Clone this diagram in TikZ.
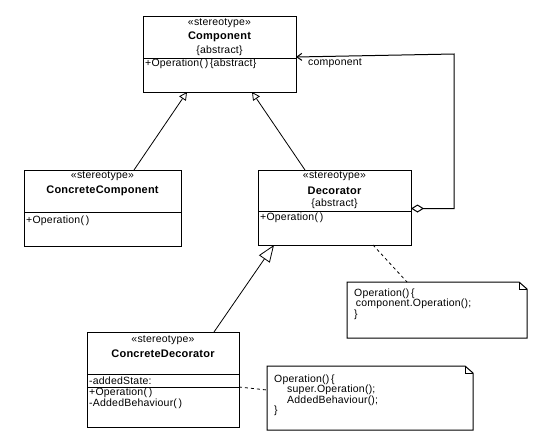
\documentclass[tikz,border=0pt]{standalone}
\usepackage{fontspec}
\setmainfont{Liberation Sans}[LetterSpace=2]
\usetikzlibrary{arrows.meta,positioning,calc}

\begin{document}
\begin{tikzpicture}[x=1pt, y=-1pt,
    cls/.style={draw, line width=1pt, inner sep=0pt, outer sep=0pt},
    txt/.style={inner sep=0pt, font=\fontsize{10.5}{10.5}\selectfont},
    clsname/.style={txt, font=\fontsize{11}{11}\selectfont\bfseries},
    mem/.style={txt, anchor=west},
    notebox/.style={inner sep=0pt, outer sep=0pt},
    notetxt/.style={txt, anchor=north west, align=left},
    gen/.style={-{Triangle[open, length=8pt, width=8pt]}, line width=0.8pt},
    biggen/.style={-{Triangle[open, length=17pt, width=13pt]}, line width=0.8pt},
    dep/.style={dash pattern=on 3pt off 3pt, line width=0.8pt},
    assoc/.style={{Diamond[open, length=13pt, width=8pt]}-{Straight Barb[length=5pt, width=7pt]}, line width=1pt},
]
    \useasboundingbox (0,0) rectangle (547,445);

    % classes
    \node[cls, minimum width=153, minimum height=76] (comp) at (219.5,54) {};
    \node[cls, minimum width=157, minimum height=76] (ccomp) at (102.5,208) {};
    \node[cls, minimum width=153, minimum height=75] (dec) at (334.5,207.5) {};
    \node[cls, minimum width=152, minimum height=95] (cdec) at (163,379.5) {};

    \draw[line width=1pt] (comp.west |- 0,58) -- (comp.east |- 0,58);
    \draw[line width=1pt] (ccomp.west |- 0,212) -- (182,212);
    \draw[line width=1pt] (dec.west |- 0,211) -- (dec.east |- 0,211);
    \draw[line width=1pt] (cdec.west |- 0,374) -- (cdec.east |- 0,374);
    \draw[line width=1pt] (cdec.west |- 0,387) -- (cdec.east |- 0,387);

    \node[txt] (comps) at (219.5,23) {«stereotype»};
    \node[clsname] (compn) at (219.5,37) {Component};
    \node[txt] (compa) at (219.5,50.5) {\{abstract\}};
    \node[mem] (compo) at (145,64) {+Operation(\,)\,\{abstract\}};

    \node[txt] (ccomps) at (102.5,176) {«stereotype»};
    \node[clsname] (ccompn) at (102.5,191) {ConcreteComponent};
    \node[mem] (ccompo) at (26,221) {+Operation(\,)};

    \node[txt] (decs) at (334.5,176) {«stereotype»};
    \node[clsname] (decn) at (334.5,191) {Decorator};
    \node[txt] (deca) at (334.5,204) {\{abstract\}};
    \node[mem] (deco) at (260,218) {+Operation(\,)};

    \node[txt] (cdecs) at (163,340) {«stereotype»};
    \node[clsname] (cdecn) at (163,353.5) {ConcreteDecorator};
    \node[mem] (cdecst) at (89,380.5) {-addedState:};
    \node[mem] (cdeco) at (89,393) {+Operation(\,)};
    \node[mem] (cdecb) at (89,403.5) {-AddedBehaviour(\,)};

    % notes
    \node[notebox, minimum width=180, minimum height=56] (note1) at (437,310) {};
    \node[notebox, minimum width=206, minimum height=64] (note2) at (370,398) {};
    \foreach \n in {note1,note2} {
        \draw[line width=1pt] (\n.north west) -- ($(\n.north east)+(-8,0)$)
            -- ($(\n.north east)+(0,7)$) -- (\n.south east) -- (\n.south west) -- cycle;
        \draw[line width=0.8pt] ($(\n.north east)+(-8,0)$) |- ($(\n.north east)+(0,7)$);
    }
    \node[notetxt] (note1t) at (354,288.5) {Operation()\,\{\\\,component.Operation();\\\}};
    \node[notetxt] (note2t) at (274,374.5) {Operation()\,\{\\\hspace{13pt}super.Operation();\\\hspace{13pt}AddedBehaviour();\\\}};

    % connectors
    \draw[gen] ($(ccomp.north)+(31.5,0)$) -- ($(comp.south)+(-32.5,0)$);
    \draw[gen] ($(dec.north)+(-29.5,0)$) -- ($(comp.south)+(32.5,0)$);
    \draw[biggen] ($(cdec.north)+(51,0)$) -- ($(dec.south)+(-60.5,0)$);

    \coordinate (bend) at (454,0);
    \draw[assoc] (dec.east |- 0,208.5) -| (bend |- comp.east) -- (comp.east |- 0,57);
    \node[mem] (rolelbl) at (308,63.5) {component};

    \draw[dep] ($(dec.south)+(38.5,0)$) -- ($(note1.north)+(-30,0)$);
    \draw[dep] ($(cdec.east)+(0,7.5)$) -- ($(note2.west)+(0,-8)$);
\end{tikzpicture}
\end{document}
